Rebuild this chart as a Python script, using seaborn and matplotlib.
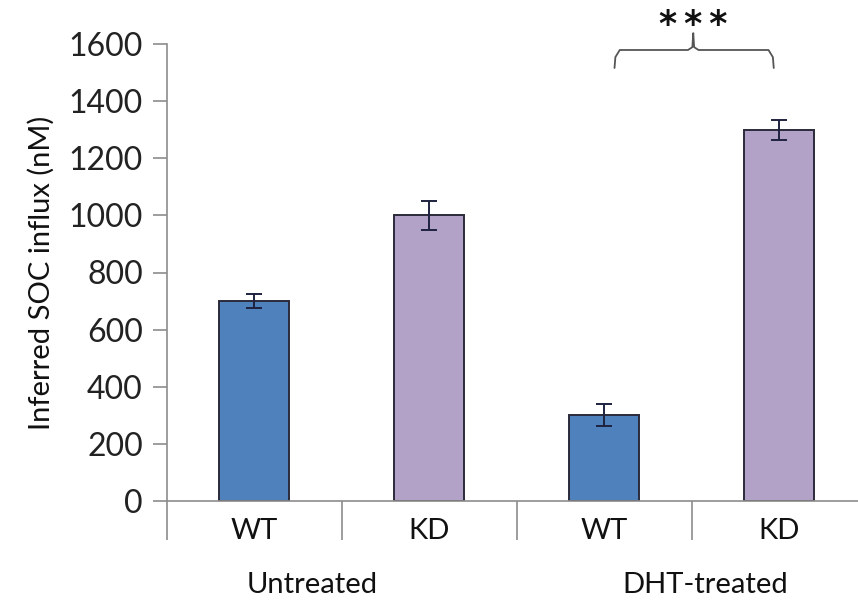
import matplotlib
matplotlib.use("Agg")
import matplotlib.pyplot as plt
import seaborn as sns
import pandas as pd
from matplotlib.ticker import FixedLocator
from matplotlib.transforms import blended_transform_factory

# ---- data ----
categories = ["Untreated WT", "Untreated KD", "DHT WT", "DHT KD"]
genotype = ["WT", "KD", "WT", "KD"]
tick_labels = ["WT", "KD", "WT", "KD"]
values = [700, 1000, 300, 1300]
errors = [25, 50, 38, 35]
groups = ["Untreated", "DHT-treated"]
group_pos = [0.33, 2.58]
yticks = [0, 200, 400, 600, 800, 1000, 1200, 1400, 1600]

sns.set_theme(style="white")
plt.rcParams["font.family"] = ["Lato", "DejaVu Sans"]

df = pd.DataFrame({"cat": categories, "geno": genotype, "val": values})

fig = plt.figure(figsize=(8.58, 6.05), dpi=100)
ax = fig.add_axes([166.5 / 858, 104 / 605, 700 / 858, 457 / 605])

palette = {"WT": "#4F81BD", "KD": "#B3A2C7"}
sns.barplot(data=df, x="cat", y="val", hue="geno", palette=palette, dodge=False,
            width=0.4, edgecolor="#2A2A3A", linewidth=1.4, legend=False, ax=ax,
            saturation=1, errorbar=None)

ax.errorbar(range(len(values)), values, yerr=errors, fmt="none",
            ecolor="#1E2240", elinewidth=1.4, capsize=6, capthick=1.4, zorder=5)

ax.set_xlim(-0.5, 3.5)
ax.set_ylim(0, 1600)
ax.set_yticks(yticks)
ax.set_yticklabels([str(v) for v in yticks], fontsize=23, color="#222222")
ax.set_xticks(range(4))
ax.set_xticklabels(tick_labels, fontsize=21, color="#111111")
ax.xaxis.set_minor_locator(FixedLocator([-0.5, 0.5, 1.5, 2.5]))
ax.tick_params(axis="x", which="major", length=0, pad=12)
ax.tick_params(axis="x", which="minor", length=28, width=1.2, color="#8C8C8C", direction="out", bottom=True)
ax.tick_params(axis="y", which="major", length=10, width=1.2, color="#8C8C8C", direction="out", left=True, pad=7)

ax.set_xlabel("")
ax.set_ylabel("Inferred SOC influx (nM)", fontsize=21, color="#111111", labelpad=10)

for s in ["top", "right"]:
    ax.spines[s].set_visible(False)
for s in ["left", "bottom"]:
    ax.spines[s].set_color("#8C8C8C")
    ax.spines[s].set_linewidth(1.2)

# group labels
trans = blended_transform_factory(ax.transData, ax.transAxes)
for g, p in zip(groups, group_pos):
    ax.text(p, -0.184, g, transform=trans, ha="center", va="center", fontsize=21, color="#111111")

# significance brace over DHT group
bx0, bx1, bxc = 2.06, 2.97, 2.51
yb, yh, yp = 1516, 1579, 1638
r = 0.03
brace_x = [bx0, bx0 + 0.005, bx0 + r, bxc - r, bxc - 0.005, bxc, bxc + 0.005, bxc + r, bx1 - r, bx1 - 0.005, bx1]
brace_y = [yb, yh - 25, yh, yh, yh + 10, yp, yh + 10, yh, yh, yh - 25, yb]
ax.plot(brace_x, brace_y, color="#555555", lw=1.3, clip_on=False, solid_joinstyle="round")
ax.text(bxc, 1665, "*\u2009*\u2009*", ha="center", va="center", fontsize=25, fontweight="bold",
        color="#111111", family="DejaVu Sans", clip_on=False)

fig.savefig("out.png", dpi=100)
